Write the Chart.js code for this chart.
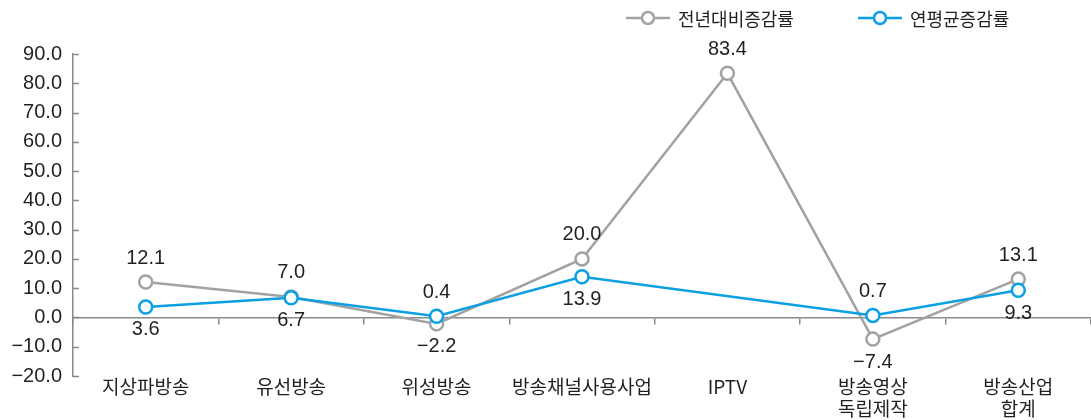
<!DOCTYPE html>
<html lang="ko">
<head>
<meta charset="utf-8">
<script src="https://cdn.jsdelivr.net/npm/chart.js@4.4.1/dist/chart.umd.min.js"></script>
<style>
  html, body { margin: 0; padding: 0; background: #fff; }
  #wrap { position: relative; width: 1091px; height: 420px; }
  #legend { position: absolute; top: 6px; left: 626px; display: flex; font-family: "Noto Sans CJK KR", sans-serif; font-size: 18px; color: #231f20; line-height: 24px; }
  #legend .item { display: flex; align-items: center; }
  #legend .item + .item { margin-left: 64px; }
  #legend svg { margin-right: 8px; }
</style>
</head>
<body>
<div id="wrap">
  <canvas id="chart" width="1091" height="420"></canvas>
  <div id="legend"></div>
</div>
<script>
document.addEventListener('DOMContentLoaded', () => {

    // --- Data ---
    const categories = [['지상파방송'], ['유선방송'], ['위성방송'], ['방송채널사용사업'], ['IPTV'], ['방송영상', '독립제작'], ['방송산업', '합계']];
    const seriesNames = ['전년대비증감률', '연평균증감률'];
    const yoyGrowth = [12.1, 7.0, -2.2, 20.0, 83.4, -7.4, 13.1];
    const avgGrowth = [3.6, 6.7, 0.4, 13.9, null, 0.7, 9.3];
    const yTickValues = [-20, -10, 0, 10, 20, 30, 40, 50, 60, 70, 80, 90];

    const GRAY = '#a2a2a2';
    const BLUE = '#0aa0e2';
    const TEXT = '#231f20';
    const AXIS = '#8a8a8a';
    const NUM_FONT = '"Liberation Sans", Arial, sans-serif';

    const fmt = v => v.toFixed(1).replace('-', '\u2212');

    // --- Legend (HTML) ---
    const legend = document.getElementById('legend');
    [[seriesNames[0], GRAY], [seriesNames[1], BLUE]].forEach(([name, color]) => {
        const item = document.createElement('div');
        item.className = 'item';
        item.innerHTML =
            `<svg width="44" height="16"><line x1="0" y1="8" x2="44" y2="8" stroke="${color}" stroke-width="2.5"/>` +
            `<circle cx="22" cy="8" r="6" fill="#fff" stroke="${color}" stroke-width="2.5"/></svg><span>${name}</span>`;
        legend.appendChild(item);
    });

    // --- Plugins ---
    const valueLabels = {
        id: 'valueLabels',
        afterDatasetsDraw(chart) {
            const ctx = chart.ctx;
            ctx.save();
            ctx.font = `20px ${NUM_FONT}`;
            ctx.fillStyle = TEXT;
            ctx.textAlign = 'center';
            ctx.textBaseline = 'middle';
            chart.data.datasets.forEach((ds, i) => {
                chart.getDatasetMeta(i).data.forEach((pt, j) => {
                    const v = ds.data[j];
                    if (v === null || v === undefined) return;
                    const dy = ds.labelSide[j] === 'below' ? 23 : -24;
                    ctx.fillText(fmt(v), pt.x, pt.y + dy);
                });
            });
            ctx.restore();
        }
    };

    const innerYTicks = {
        id: 'innerYTicks',
        afterDraw(chart) {
            const ctx = chart.ctx;
            const y = chart.scales.y;
            ctx.save();
            ctx.strokeStyle = AXIS;
            ctx.lineWidth = 1.5;
            y.ticks.forEach(t => {
                const py = Math.round(y.getPixelForValue(t.value)) + 0.5;
                ctx.beginPath();
                ctx.moveTo(y.right, py);
                ctx.lineTo(y.right + 6, py);
                ctx.stroke();
            });
            ctx.restore();
        }
    };

    // --- Chart ---
    const ctx = document.getElementById('chart').getContext('2d');
    new Chart(ctx, {
        type: 'line',
        data: {
            labels: categories,
            datasets: [{
                label: seriesNames[0],
                data: yoyGrowth,
                borderColor: GRAY,
                backgroundColor: '#fff',
                pointBorderColor: GRAY,
                pointBackgroundColor: '#fff',
                borderWidth: 2.5,
                pointBorderWidth: 2.5,
                pointRadius: 6.5,
                order: 2,
                labelSide: ['above', 'above', 'below', 'above', 'above', 'below', 'above']
            }, {
                label: seriesNames[1],
                data: avgGrowth,
                borderColor: BLUE,
                backgroundColor: '#fff',
                pointBorderColor: BLUE,
                pointBackgroundColor: '#fff',
                borderWidth: 2.5,
                pointBorderWidth: 2.5,
                pointRadius: 6.5,
                spanGaps: true,
                order: 1,
                labelSide: ['below', 'below', 'above', 'below', 'below', 'above', 'below']
            }]
        },
        options: {
            responsive: false,
            animation: false,
            layout: { autoPadding: false, padding: { top: 54, left: 0, right: 0, bottom: 0 } },
            plugins: { legend: { display: false }, tooltip: { enabled: false } },
            scales: {
                y: {
                    min: -20,
                    max: 90,
                    afterBuildTicks: s => { s.ticks = yTickValues.map(v => ({ value: v })); },
                    afterFit: s => { s.width = 73; s.paddingTop = 0; s.paddingBottom = 0; },
                    ticks: { color: TEXT, padding: 11, font: { family: NUM_FONT, size: 20 }, callback: v => fmt(v) },
                    grid: { display: false, drawTicks: false },
                    border: { display: true, color: AXIS, width: 1.5 }
                },
                x: {
                    type: 'category',
                    position: { y: 0 },
                    offset: true,
                    ticks: { display: false },
                    grid: { display: true, offset: true, drawOnChartArea: false, drawTicks: true, tickLength: 6, color: AXIS, lineWidth: 1.5 },
                    border: { display: true, color: AXIS, width: 1.5 }
                },
                x2: {
                    type: 'category',
                    position: 'bottom',
                    labels: categories,
                    offset: true,
                    afterFit: s => { s.height = 44; s.paddingLeft = 0; s.paddingRight = 0; },
                    ticks: { color: TEXT, padding: 0, maxRotation: 0, autoSkip: false, font: { family: '"Noto Sans CJK KR", sans-serif', size: 19, lineHeight: 1.16 } },
                    grid: { display: false, drawTicks: false },
                    border: { display: false }
                }
            }
        },
        plugins: [valueLabels, innerYTicks]
    });
});
</script>
</body>
</html>
